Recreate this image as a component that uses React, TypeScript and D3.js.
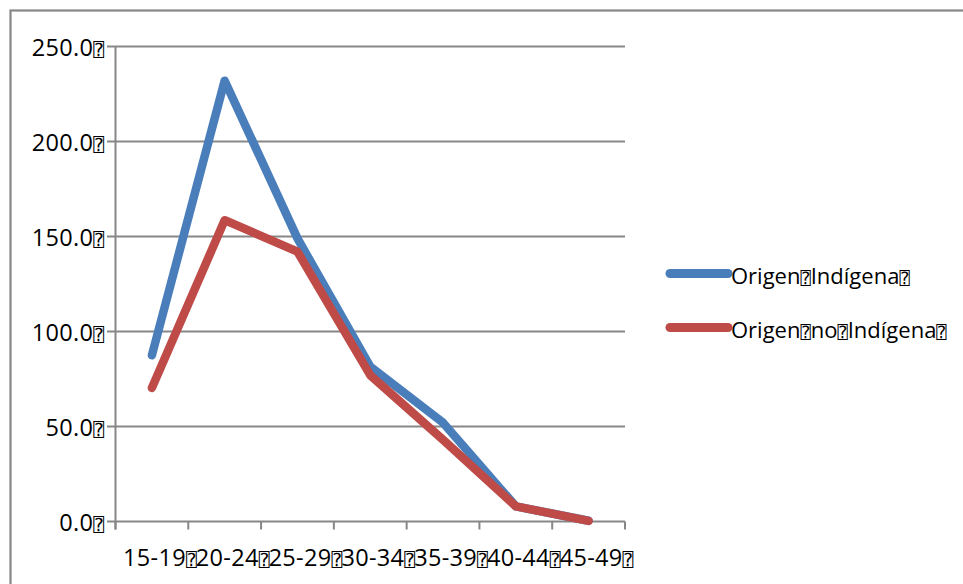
import React from "react";
import * as d3 from "d3";

const categories = ["15-19", "20-24", "25-29", "30-34", "35-39", "40-44", "45-49"];
const indigena = [87.5, 232, 149, 81.5, 52, 8, 0.4];
const noIndigena = [70.3, 158.6, 142, 77, 43, 8, 0.3];
const yTicks = [0, 50, 100, 150, 200, 250];
const seriesNames = ["Origen\u2370Indígena\u2370", "Origen\u2370no\u2370Indígena\u2370"];
const seriesColors = ["#4A7EBB", "#BE4B48"];

const BOX = "\u2370";

function Label({ s, boxSize }: { s: string; boxSize: number }) {
  const parts = s.split(BOX);
  const out: React.ReactNode[] = [];
  parts.forEach((p, i) => {
    if (p) out.push(<tspan key={"t" + i}>{p}</tspan>);
    if (i < parts.length - 1)
      out.push(
        <tspan key={"b" + i} fontSize={boxSize} fontFamily="DejaVu Sans Mono" letterSpacing={0}>
          {BOX}
        </tspan>
      );
  });
  return <>{out}</>;
}

export default function App() {
  const W = 963, H = 584;
  const x0 = 115.5, x1 = 625;
  const y0 = 521.5, y1 = 46.5;
  const band = d3.scaleBand<string>().domain(categories).range([x0, x1]).padding(0);
  const y = d3.scaleLinear().domain([0, 250]).range([y0, y1]);
  const cx = (c: string) => (band(c) as number) + band.bandwidth() / 2;
  const line = d3
    .line<number>()
    .x((_, i) => cx(categories[i]))
    .y((d) => y(d));
  const grid = "#878787";
  const font = "'Open Sans', sans-serif";
  const series = [indigena, noIndigena];
  const boundaries = categories.map((c) => band(c) as number).concat([x1]);

  return (
    <svg width={W} height={H} style={{ position: "absolute", left: 0, top: 0, background: "#fff" }}>
      <rect x={0} y={0} width={W} height={H} fill="#fff" />
      <rect x={10.5} y={10.5} width={1000} height={700} fill="none" stroke={grid} strokeWidth={2.2} />
      {yTicks.map((t) => (
        <g key={t}>
          <line x1={107} x2={x1} y1={y(t)} y2={y(t)} stroke={grid} strokeWidth={2} />
          <text x={104} y={y(t) + 9} textAnchor="end" fontFamily={font} fontSize={23.5} letterSpacing={0.3} fill="#000">
            <Label s={d3.format(".1f")(t) + BOX} boxSize={18} />
          </text>
        </g>
      ))}
      <line x1={x0} x2={x0} y1={y1} y2={y0 + 8} stroke={grid} strokeWidth={2} />
      {boundaries.map((b, i) => (
        <line key={i} x1={b} x2={b} y1={y0} y2={y0 + 8} stroke={grid} strokeWidth={2} />
      ))}
      {categories.map((c) => (
        <text key={c} x={cx(c) + 8} y={566} textAnchor="middle" fontFamily={font} fontSize={23.5} letterSpacing={0.3} fill="#000">
          <Label s={c + BOX} boxSize={18} />
        </text>
      ))}
      {series.map((s, i) => (
        <path
          key={i}
          d={line(s) as string}
          fill="none"
          stroke={seriesColors[i]}
          strokeWidth={8.5}
          strokeLinecap="round"
          strokeLinejoin="round"
        />
      ))}
      {seriesNames.map((n, i) => {
        const ly = 273.5 + i * 54;
        return (
          <g key={n}>
            <line x1={670} x2={728} y1={ly} y2={ly} stroke={seriesColors[i]} strokeWidth={9} strokeLinecap="round" />
            <text x={731} y={ly + 10} fontFamily={font} fontSize={22} fill="#000">
              <Label s={n} boxSize={17} />
            </text>
          </g>
        );
      })}
    </svg>
  );
}
